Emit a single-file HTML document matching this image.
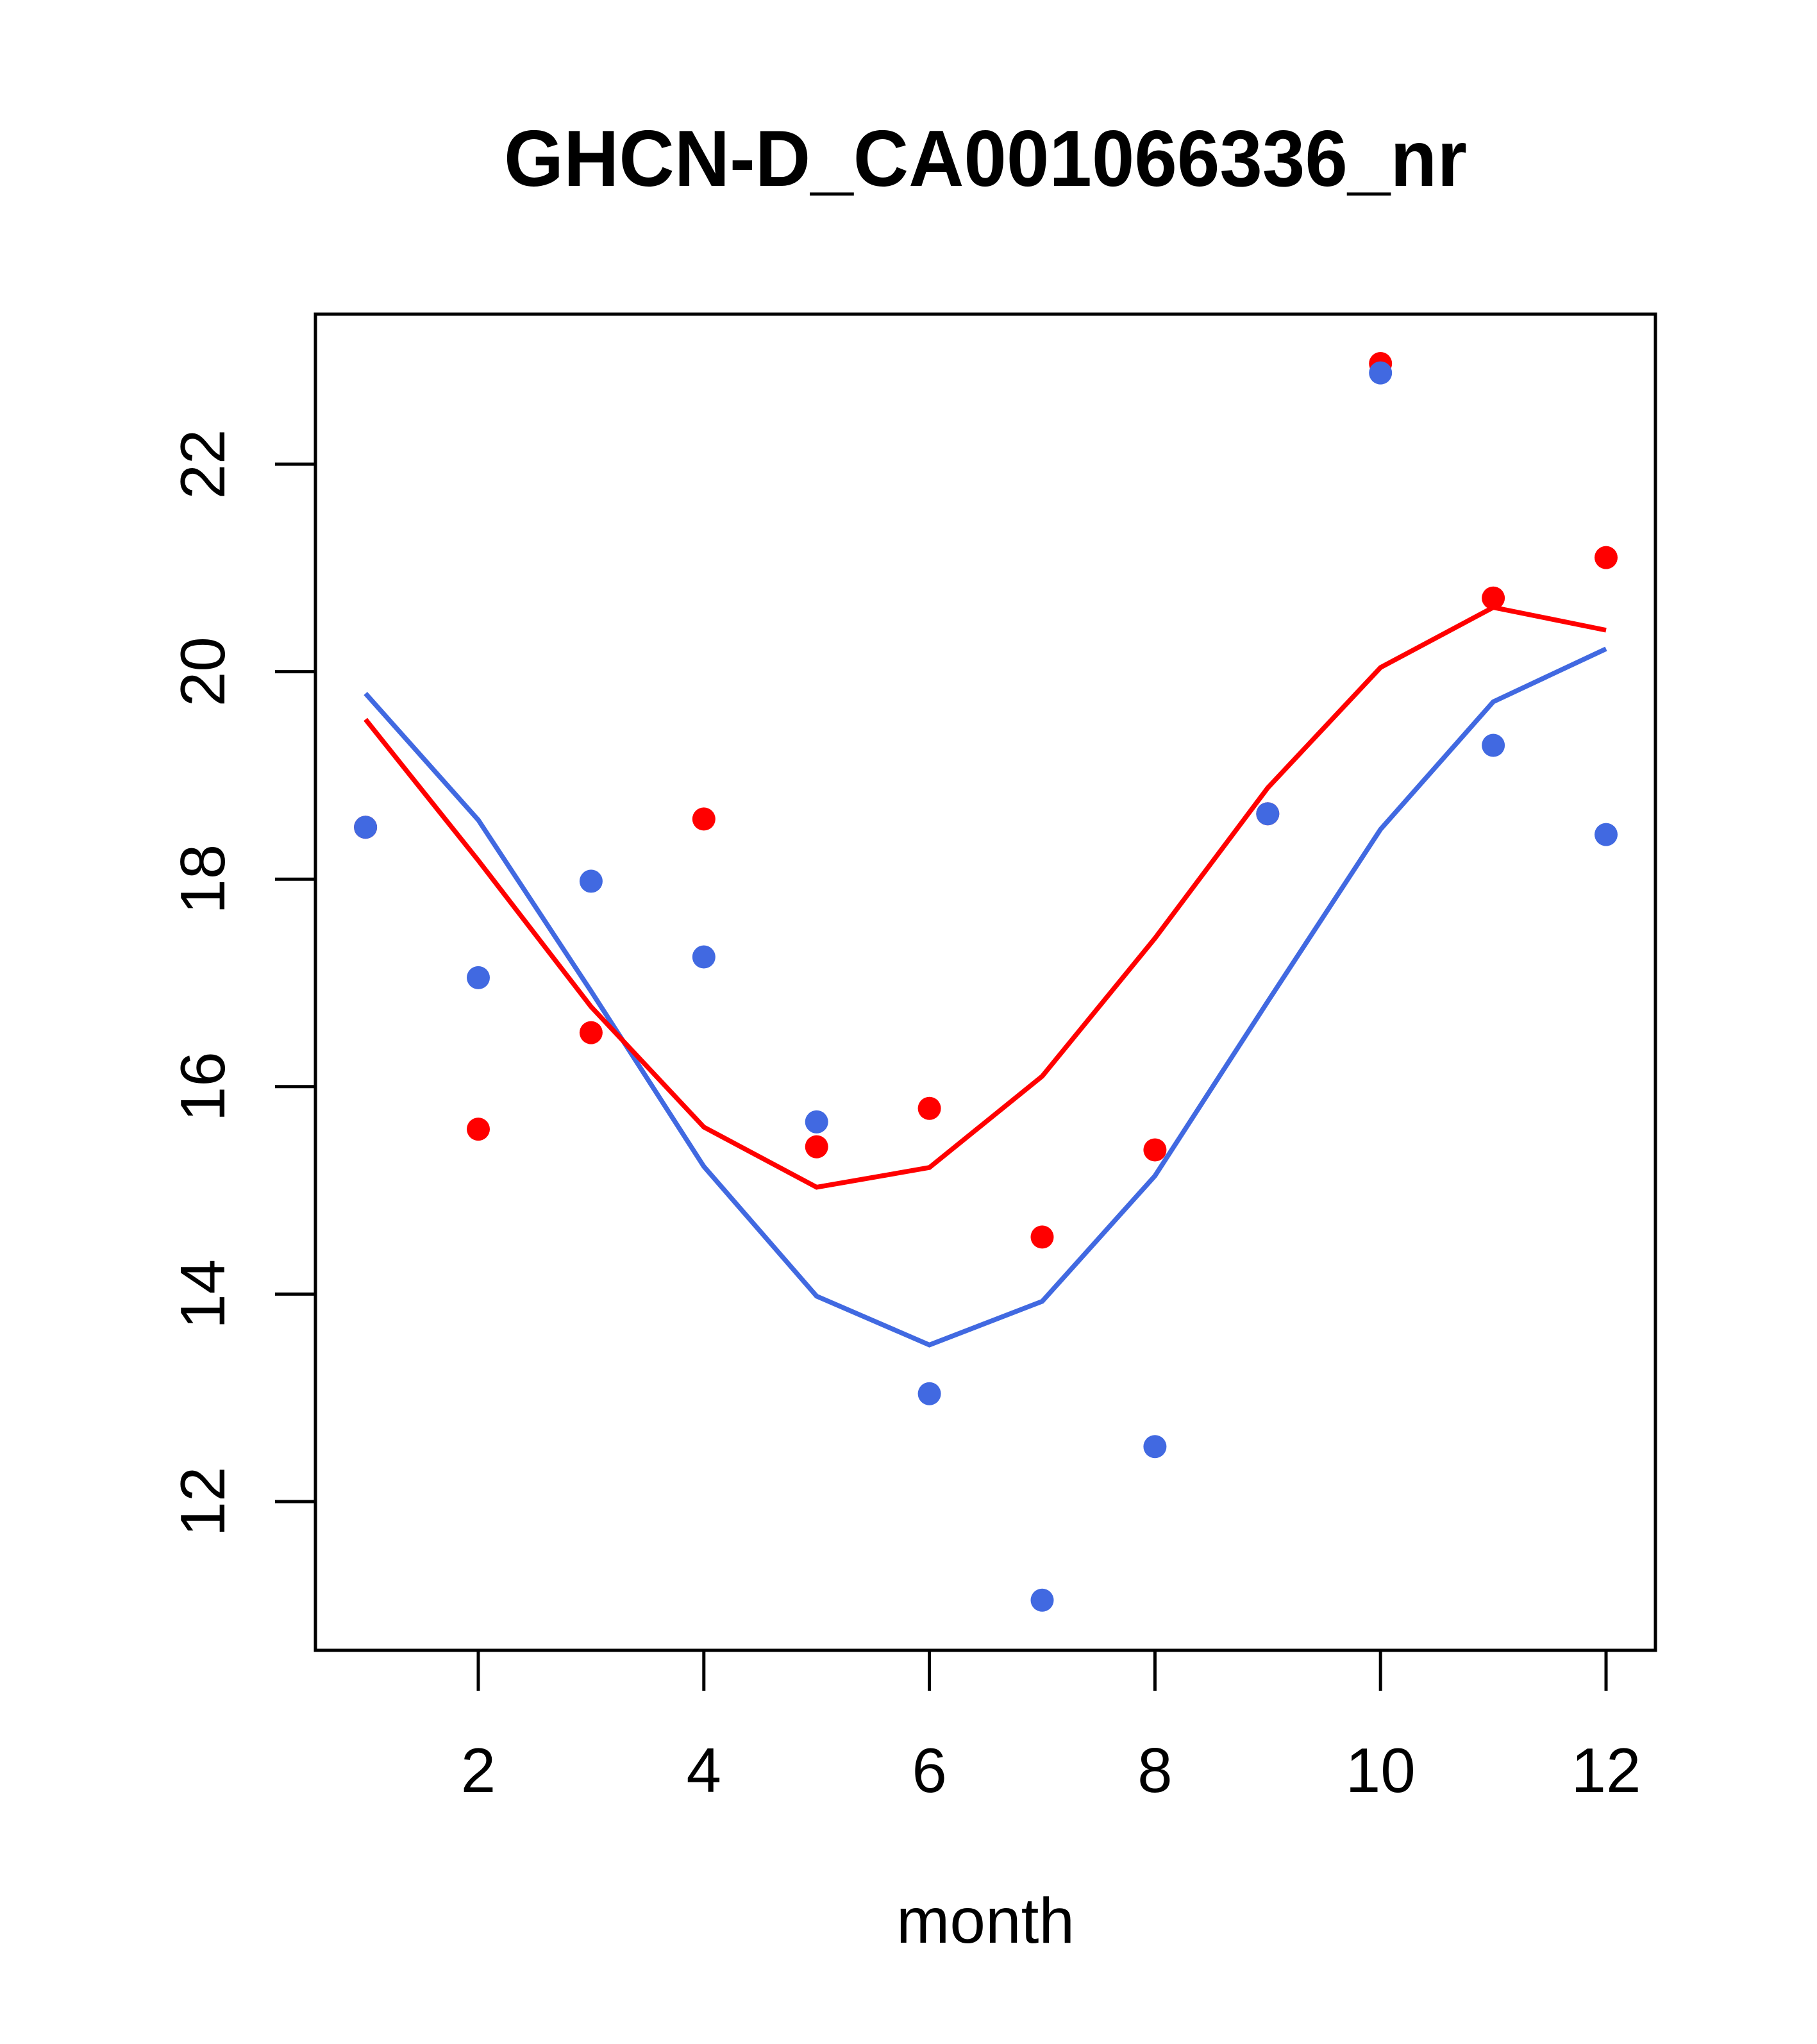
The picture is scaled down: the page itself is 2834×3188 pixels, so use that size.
<!DOCTYPE html>
<html><head><meta charset="utf-8"><style>body{margin:0;background:#fff}svg{display:block}</style></head>
<body>
<svg id="chart" width="2834" height="3188" viewBox="0 0 2834 3188" xmlns="http://www.w3.org/2000/svg" font-family="Liberation Sans, sans-serif">
<rect width="2834" height="3188" fill="#fff"/>
<text x="1537" y="290" font-size="124" font-weight="bold" text-anchor="middle" textLength="1502" lengthAdjust="spacingAndGlyphs">GHCN-D_CA001066336_nr</text>
<rect x="492" y="490" width="2090" height="2084" fill="none" stroke="#000" stroke-width="5"/>
<text x="1537" y="3030" font-size="100" text-anchor="middle">month</text>
<g id="g"></g>
</svg>
<script>
const months=[1,2,3,4,5,6,7,8,9,10,11,12];
const redPoints=[18.5,15.59,16.52,18.58,15.42,15.79,14.55,15.39,18.63,22.97,20.71,21.10];
const bluePoints=[18.50,17.05,17.98,17.25,15.66,13.04,11.05,12.53,18.63,22.88,19.29,18.43];
const redLine=[19.54,18.18,16.77,15.61,15.03,15.22,16.10,17.43,18.88,20.04,20.62,20.40];
const blueLine=[19.79,18.57,16.92,15.23,13.98,13.51,13.93,15.14,16.82,18.48,19.71,20.22];
const xTicks=[2,4,6,8,10,12];
const yTicks=[12,14,16,18,20,22];
const NS="http://www.w3.org/2000/svg";
const g=document.getElementById('g');
function sx(m){return 746+(m-2)*(2505-746)/10;}
function sy(v){return 2342-(v-12)*(2342-724)/10;}
function mk(t,a){const e=document.createElementNS(NS,t);for(const k in a)e.setAttribute(k,a[k]);g.appendChild(e);return e;}
xTicks.forEach(t=>{
 const l=mk('line',{x1:sx(t),x2:sx(t),y1:2574,y2:2637,stroke:'#000','stroke-width':5});
 
 
 const tx=mk('text',{x:sx(t),y:2795,'font-size':98,'text-anchor':'middle'});tx.textContent=t;
 
 
});
yTicks.forEach(t=>{
 const l=mk('line',{x1:429,x2:492,y1:sy(t),y2:sy(t),stroke:'#000','stroke-width':5});
 
 
 const tx=mk('text',{x:0,y:0,'font-size':98,'text-anchor':'middle',transform:`translate(350,${sy(t)}) rotate(-90)`});tx.textContent=t;
 
 
});
function line(vals,c,name){
 const p=mk('polyline',{points:vals.map((v,i)=>sx(months[i])+','+sy(v)).join(' '),fill:'none',stroke:c,'stroke-width':7.5});
 
 
}
function pts(vals,c,name){
 vals.forEach((v,i)=>{
  const e=mk('circle',{cx:sx(months[i]),cy:sy(v),r:18,fill:c});
  
  
 });
}
pts(redPoints,'#ff0000','red-point');
pts(bluePoints,'#4169e1','blue-point');
line(blueLine,'#4169e1','blue-line');
line(redLine,'#ff0000','red-line');
</script>
</body></html>
